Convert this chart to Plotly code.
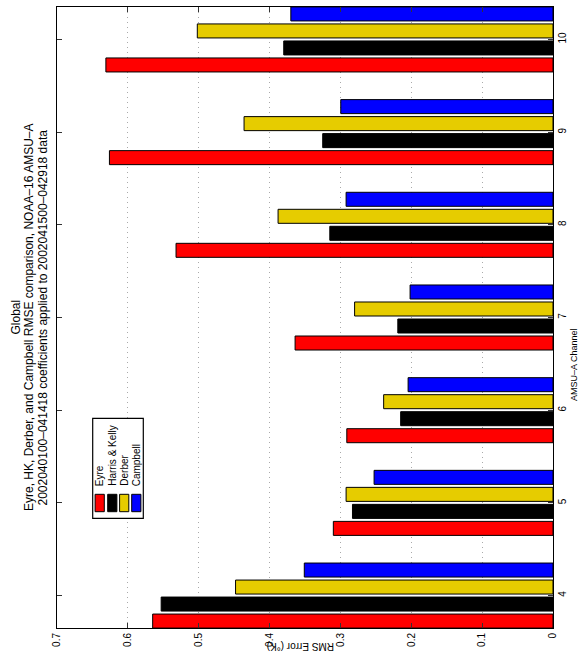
import plotly.graph_objects as go

# AMSU-A channels and RMS errors (K) for the four coefficient sets
channels = [4, 5, 6, 7, 8, 9, 10]
eyre = [0.565, 0.310, 0.291, 0.364, 0.532, 0.626, 0.631]
harris_kelly = [0.553, 0.283, 0.215, 0.219, 0.315, 0.325, 0.380]
derber = [0.448, 0.292, 0.239, 0.280, 0.388, 0.436, 0.502]
campbell = [0.351, 0.2525, 0.2045, 0.2017, 0.292, 0.2995, 0.370]

series_names = ["Eyre", "Harris & Kelly", "Derber", "Campbell"]
series_values = [eyre, harris_kelly, derber, campbell]
series_colors = ["#FF0000", "#000000", "#E6CC00", "#0000FF"]

x_ticks = [0, 0.1, 0.2, 0.3, 0.4, 0.5, 0.6, 0.7]
x_ticklabels = ["0", "0.1", "0.2", "0.3", "0.4", "0.5", "0.6", "0.7"]

title_lines = [
    "Global",
    "Eyre, HK, Derber, and Campbell RMSE comparison, NOAA\u201316 AMSU\u2013A",
    "2002040100\u2013041418 coefficients applied to 2002041500\u2013042918 data",
]

FONT = "Liberation Sans, Arial, Helvetica, sans-serif"
W, H = 579, 660
L, R, T, B = 57, 553, 7, 628


def px(x):
    return (x - L) / (R - L)


def py(y):
    return (B - y) / (B - T)


fig = go.Figure()
for name, vals, col in zip(series_names, series_values, series_colors):
    fig.add_trace(go.Bar(
        y=channels, x=vals, orientation="h", name=name,
        marker=dict(color=col, line=dict(color="#000000", width=1)),
        showlegend=False,
    ))

annotations = []
# rotated title lines
for xc, line in zip([15, 28.5, 42], title_lines):
    annotations.append(dict(
        x=px(xc), y=py(317.5), xref="paper", yref="paper", text=line,
        textangle=-90, showarrow=False, xanchor="center", yanchor="middle",
        font=dict(family=FONT, size=12, color="#000000"),
    ))
# axis titles
annotations.append(dict(
    x=px(301), y=py(646), xref="paper", yref="paper", text="RMS Error (\u00b0K)",
    textangle=180, showarrow=False, xanchor="center", yanchor="middle",
    font=dict(family=FONT, size=10, color="#000000"),
))
annotations.append(dict(
    x=px(574), y=py(365), xref="paper", yref="paper", text="AMSU\u2013A Channel",
    textangle=-90, showarrow=False, xanchor="center", yanchor="middle",
    font=dict(family=FONT, size=9, color="#000000"),
))

shapes = []
# legend box
shapes.append(dict(type="rect", xref="paper", yref="paper",
                   x0=px(92.7), x1=px(143.3), y0=py(518.3), y1=py(418.3),
                   fillcolor="#FFFFFF", line=dict(color="#000000", width=1.2)))
col_centers = [99.7, 112.3, 124.2, 136.3]
for xc, name, col in zip(col_centers, series_names, series_colors):
    shapes.append(dict(type="rect", xref="paper", yref="paper",
                       x0=px(xc - 4.6), x1=px(xc + 4.6), y0=py(511.7), y1=py(494.3),
                       fillcolor=col, line=dict(color="#000000", width=1)))
    annotations.append(dict(
        x=px(xc), y=py(488), xref="paper", yref="paper", text=name,
        textangle=-90, showarrow=False, xanchor="center", yanchor="bottom",
        font=dict(family=FONT, size=10, color="#000000"),
    ))

fig.update_layout(
    width=W, height=H,
    margin=dict(l=L, r=W - R, t=T, b=H - B, pad=0),
    paper_bgcolor="#FFFFFF", plot_bgcolor="#FFFFFF",
    barmode="group", bargap=0.266, bargroupgap=0.176,
    annotations=annotations, shapes=shapes,
    font=dict(family=FONT, size=10, color="#000000"),
)
fig.update_xaxes(
    range=[0.7, 0], tickvals=x_ticks, ticktext=x_ticklabels, tickangle=-90,
    ticks="inside", ticklen=5, tickcolor="#333333", mirror="ticks",
    showline=True, linecolor="#000000", linewidth=1,
    showgrid=True, gridcolor="#AAAAAA", gridwidth=1, griddash="1px,4px",
    zeroline=False, tickfont=dict(family=FONT, size=10),
)
fig.update_yaxes(
    range=[3.65, 10.35], tickvals=channels, ticktext=[str(c) for c in channels],
    side="right", tickangle=-90,
    ticks="inside", ticklen=5, tickcolor="#333333", mirror="ticks",
    showline=True, linecolor="#000000", linewidth=1,
    showgrid=False, zeroline=False, tickfont=dict(family=FONT, size=10),
)

fig.write_html("out.html")
